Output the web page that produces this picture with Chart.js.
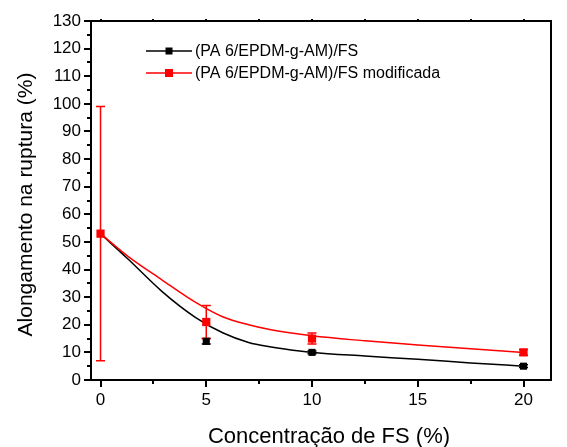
<!DOCTYPE html>
<html>
<head>
<meta charset="utf-8">
<script src="https://cdn.jsdelivr.net/npm/chart.js@4/dist/chart.umd.min.js"></script>
<style>
  html, body { margin: 0; padding: 0; background: #ffffff; }
  #wrap { width: 567px; height: 447px; }
</style>
</head>
<body>
<div id="wrap"><canvas id="c" width="567" height="447"></canvas></div>
<script>
// Filler concentration (%) and elongation at break (%)
const concentrations = [0, 5, 10, 20];
const plainValues = [53, 14, 10, 5];
const plainErrors = [0, 1, 0.5, 0.5];
const modifiedValues = [53, 21, 15, 10];
const modifiedErrors = [46, 6, 2, 1];

// Fitted trend curves
const plainFitX = [0, 1.3, 2.9, 4.5, 5.8, 7, 8, 9, 10, 12.5, 15, 17.5, 20];
const plainFitY = [53, 43.8, 32.1, 22.6, 17.0, 13.6, 12.0, 10.85, 10.0, 8.7, 7.5, 6.2, 5.0];
const modifiedFitX = [0, 1.3, 2.9, 4.5, 5.8, 7, 8, 10, 12.5, 15, 17.5, 20];
const modifiedFitY = [53, 44.8, 36.3, 28.1, 22.8, 20.0, 18.3, 16.0, 14.2, 12.7, 11.3, 10.0];

// Axis ticks
const xTickValues = [0, 5, 10, 15, 20];
const xMinorValues = [2.5, 7.5, 12.5, 17.5];
const yTickValues = [0, 10, 20, 30, 40, 50, 60, 70, 80, 90, 100, 110, 120, 130];
const yMinorValues = [5, 15, 25, 35, 45, 55, 65, 75, 85, 95, 105, 115, 125];

const seriesNames = ['(PA 6/EPDM-g-AM)/FS', '(PA 6/EPDM-g-AM)/FS modificada'];
const xTitle = 'Concentração de FS (%)';
const yTitle = 'Alongamento na ruptura (%)';
const RED = '#ff0000';
const BLACK = '#000000';
const FONT = 'Arial, "Liberation Sans", sans-serif';

const toPoints = (xs, ys) => xs.map((x, i) => ({ x: x, y: ys[i] }));

const errorBars = {
  id: 'errorBars',
  beforeDatasetsDraw(chart) {
    const ctx = chart.ctx;
    const xs = chart.scales.x, ys = chart.scales.y;
    const sets = [
      { vals: plainValues, errs: plainErrors, color: BLACK },
      { vals: modifiedValues, errs: modifiedErrors, color: RED }
    ];
    ctx.save();
    ctx.lineWidth = 1.5;
    sets.forEach(s => {
      ctx.strokeStyle = s.color;
      concentrations.forEach((c, i) => {
        if (!s.errs[i]) return;
        const px = xs.getPixelForValue(c);
        const top = ys.getPixelForValue(s.vals[i] + s.errs[i]);
        const bot = ys.getPixelForValue(s.vals[i] - s.errs[i]);
        ctx.beginPath();
        ctx.moveTo(px, top); ctx.lineTo(px, bot);
        ctx.moveTo(px - 4.5, top); ctx.lineTo(px + 4.5, top);
        ctx.moveTo(px - 4.5, bot); ctx.lineTo(px + 4.5, bot);
        ctx.stroke();
      });
    });
    ctx.restore();
  }
};

const frame = {
  id: 'frame',
  afterDraw(chart) {
    const ctx = chart.ctx;
    const a = chart.chartArea;
    const xs = chart.scales.x, ys = chart.scales.y;
    ctx.save();
    ctx.strokeStyle = BLACK;
    ctx.lineWidth = 2;
    ctx.strokeRect(a.left, a.top, a.right - a.left, a.bottom - a.top);
    ctx.beginPath();
    xTickValues.forEach(v => {
      const p = Math.round(xs.getPixelForValue(v));
      ctx.moveTo(p, a.bottom); ctx.lineTo(p, a.bottom + 7);
      ctx.moveTo(p, a.top); ctx.lineTo(p, a.top - 2);
    });
    xMinorValues.forEach(v => {
      const p = Math.round(xs.getPixelForValue(v));
      ctx.moveTo(p, a.bottom); ctx.lineTo(p, a.bottom + 4);
      ctx.moveTo(p, a.top); ctx.lineTo(p, a.top - 2);
    });
    yTickValues.forEach(v => {
      const p = Math.round(ys.getPixelForValue(v));
      ctx.moveTo(a.left, p); ctx.lineTo(a.left - 7, p);
    });
    yMinorValues.forEach(v => {
      const p = Math.round(ys.getPixelForValue(v));
      ctx.moveTo(a.left, p); ctx.lineTo(a.left - 4, p);
    });
    ctx.stroke();

    // Axis titles
    ctx.fillStyle = BLACK;
    ctx.textAlign = 'center';
    ctx.textBaseline = 'alphabetic';
    ctx.font = '22px ' + FONT;
    ctx.fillText(xTitle, (a.left + a.right) / 2 + 8, 443);
    ctx.save();
    ctx.translate(32, (a.top + a.bottom) / 2 + 4);
    ctx.rotate(-Math.PI / 2);
    ctx.font = '21px ' + FONT;
    ctx.fillText(yTitle, 0, 0);
    ctx.restore();

    // Legend
    const rows = [
      { name: seriesNames[0], color: BLACK, y: 51, size: 7 },
      { name: seriesNames[1], color: RED, y: 73, size: 8 }
    ];
    ctx.font = '16px ' + FONT;
    ctx.textAlign = 'left';
    ctx.textBaseline = 'middle';
    rows.forEach(r => {
      ctx.strokeStyle = r.color;
      ctx.lineWidth = 1.5;
      ctx.beginPath();
      ctx.moveTo(146, r.y); ctx.lineTo(192, r.y);
      ctx.stroke();
      ctx.fillStyle = r.color;
      ctx.fillRect(169 - r.size / 2, r.y - r.size / 2, r.size, r.size);
      ctx.fillStyle = BLACK;
      ctx.fillText(r.name, 195, r.y + 1);
    });
    ctx.restore();
  }
};

new Chart(document.getElementById('c'), {
  type: 'scatter',
  data: {
    datasets: [
      {
        data: toPoints(plainFitX, plainFitY),
        showLine: true, borderColor: BLACK, borderWidth: 1.5,
        pointRadius: 0, cubicInterpolationMode: 'monotone', order: 4
      },
      {
        data: toPoints(modifiedFitX, modifiedFitY),
        showLine: true, borderColor: RED, borderWidth: 1.5,
        pointRadius: 0, cubicInterpolationMode: 'monotone', order: 3
      },
      {
        data: toPoints(concentrations, plainValues),
        showLine: false, pointStyle: 'rect', pointRadius: 5,
        backgroundColor: BLACK, borderColor: BLACK, borderWidth: 0, order: 2
      },
      {
        data: toPoints(concentrations, modifiedValues),
        showLine: false, pointStyle: 'rect', pointRadius: 5.8,
        backgroundColor: RED, borderColor: RED, borderWidth: 0, order: 1
      }
    ]
  },
  options: {
    responsive: false,
    animation: false,
    devicePixelRatio: 1,
    layout: { padding: { top: 21, right: 16, left: 0, bottom: 0 } },
    plugins: { legend: { display: false }, tooltip: { enabled: false } },
    scales: {
      x: {
        type: 'linear', min: -0.45, max: 21.3,
        grid: { display: false, drawTicks: false },
        border: { display: false },
        afterBuildTicks: s => { s.ticks = xTickValues.map(v => ({ value: v })); },
        afterFit: s => { s.height = 67; },
        ticks: { color: BLACK, font: { family: FONT, size: 17 }, padding: 10, maxRotation: 0 }
      },
      y: {
        type: 'linear', min: 0, max: 130,
        grid: { display: false, drawTicks: false },
        border: { display: false },
        afterBuildTicks: s => { s.ticks = yTickValues.map(v => ({ value: v })); },
        afterFit: s => { s.width = 91; },
        ticks: { color: BLACK, font: { family: FONT, size: 17 }, padding: 10 }
      }
    }
  },
  plugins: [errorBars, frame]
});
</script>
</body>
</html>
